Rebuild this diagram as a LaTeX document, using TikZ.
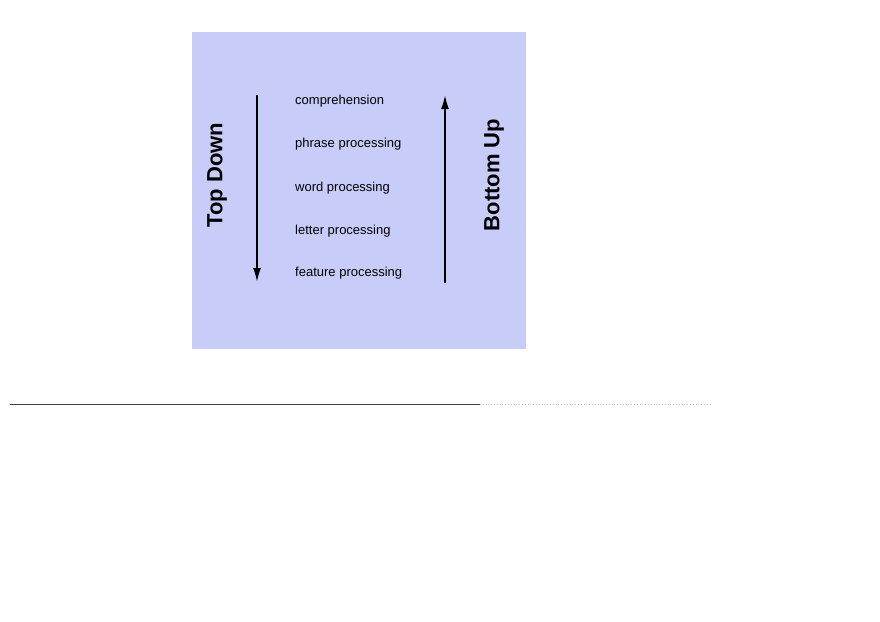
\documentclass[tikz,border=0pt]{standalone}
\usetikzlibrary{arrows.meta}
\usepackage{fontspec}
\setmainfont{Liberation Sans}
\begin{document}
\begin{tikzpicture}[x=1pt,y=-1pt,
  lvl/.style={anchor=west,font=\fontsize{13}{15}\selectfont,inner sep=0},
  side/.style={rotate=90,font=\fontsize{22}{24}\selectfont\bfseries,inner sep=0},
  arr/.style={line width=1.8pt,-{Latex[length=14pt,width=8pt]}}]
\useasboundingbox (0,0) rectangle (880,621);
\fill[fill={rgb,255:red,200;green,204;blue,248}] (192,32) rectangle (526,349);
\node[lvl] (c) at (295,101) {comprehension};
\node[lvl] (p) at (295,144) {phrase processing};
\node[lvl] (w) at (295,188) {word processing};
\node[lvl] (l) at (295,231) {letter processing};
\node[lvl] (f) at (295,273) {feature processing};
\node[side] (td) at (217,175) {Top Down};
\node[side] (bu) at (494,175) {Bottom Up};
\coordinate (a1) at (257,95); \coordinate (a2) at (257,282);
\coordinate (b1) at (445,283); \coordinate (b2) at (445,95);
\draw[arr] (a1) -- (a2);
\draw[arr] (b1) -- (b2);
\coordinate (r1) at (10,404); \coordinate (r2) at (480,404); \coordinate (r3) at (710,404);
\draw[line width=0.8pt,black!75] (r1) -- (r2);
\draw[line width=0.8pt,black!25,dotted] (r2) -- (r3);
\end{tikzpicture}
\end{document}
